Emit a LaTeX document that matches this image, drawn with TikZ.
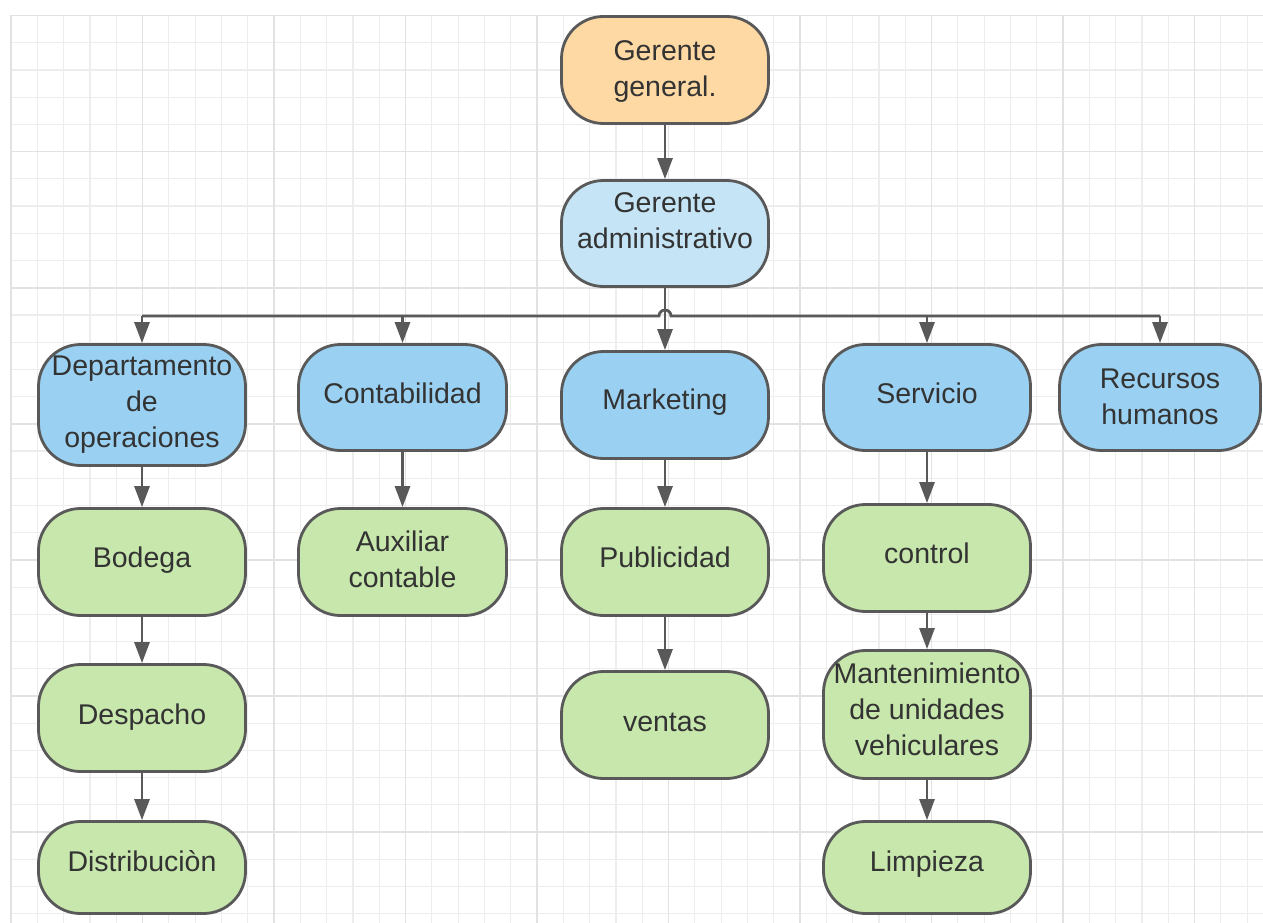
\documentclass[tikz,border=0pt]{standalone}
\usepackage{fontspec}
\setmainfont{Liberation Sans}
\usetikzlibrary{arrows.meta}
\definecolor{linec}{RGB}{89,89,89}
\definecolor{textc}{RGB}{51,51,51}
\definecolor{cOrange}{RGB}{254,217,164}
\definecolor{cLight}{RGB}{197,229,246}
\definecolor{cBlue}{RGB}{154,209,242}
\definecolor{cGreen}{RGB}{199,231,172}
\definecolor{gMinor}{RGB}{237,237,237}
\definecolor{gMajor}{RGB}{226,226,226}
\newcommand\lift[2]{\raisebox{#1}[\height][\depth]{\begin{tabular}{@{}c@{}}#2\end{tabular}}}
\tikzset{
  box/.style={draw=linec, line width=2.8pt, rounded corners=42pt, minimum width=207pt,
    minimum height=107pt, inner sep=0pt, text=textc, font=\fontsize{28.5}{36}\selectfont},
  conn/.style={draw=linec, line width=2.8pt, -{Triangle[width=15pt,length=21pt]}},
  busline/.style={draw=linec, line width=2.8pt},
  gridminor/.style={draw=gMinor, line width=1.2pt},
  gridmajor/.style={draw=gMajor, line width=1.6pt},
}
\begin{document}
\begin{tikzpicture}[x=1pt,y=-1pt]
\useasboundingbox[fill=white] (0,0) rectangle (1263,923);
% grid
\foreach \i in {0,...,47} \draw[gridminor] ({11+26.3*\i},15.5) -- ({11+26.3*\i},923);
\foreach \j in {0,...,33} \draw[gridminor] (11,{15.5+27.22*\j}) -- (1263,{15.5+27.22*\j});
\foreach \i in {0,5,...,45} \draw[gridmajor] ({11+26.3*\i},15.5) -- ({11+26.3*\i},923);
\foreach \j in {0,5,...,30} \draw[gridmajor] (11,{15.5+27.22*\j}) -- (1263,{15.5+27.22*\j});
% nodes
\node[box, fill=cOrange] (gg) at (665,70) {\lift{-1pt}{Gerente\\general.}};
\node[box, fill=cLight, minimum height=106pt] (ga) at (665,233.5) {\lift{10pt}{Gerente\\administrativo}};
\node[box, fill=cBlue, minimum height=121pt] (dep) at (142,405) {\lift{1pt}{Departamento\\de\\operaciones}};
\node[box, fill=cBlue, minimum width=208pt, minimum height=106pt] (cont) at (402.5,397.5) {\lift{1.5pt}{Contabilidad}};
\node[box, fill=cBlue] (mkt) at (665,405) {\lift{3pt}{Marketing}};
\node[box, fill=cBlue, minimum height=106pt] (serv) at (927,397.5) {\lift{1.5pt}{Servicio}};
\node[box, fill=cBlue, minimum width=201pt, minimum height=106pt] (rh) at (1160,397.5) {\lift{-1.5pt}{Recursos\\humanos}};
\node[box, fill=cGreen] (bod) at (142,562) {\lift{2pt}{Bodega}};
\node[box, fill=cGreen, minimum width=208pt] (aux) at (402.5,562) {\lift{0pt}{Auxiliar\\contable}};
\node[box, fill=cGreen] (pub) at (665,562) {\lift{2pt}{Publicidad}};
\node[box, fill=cGreen] (ctrl) at (927,558) {\lift{2pt}{control}};
\node[box, fill=cGreen] (desp) at (142,718) {\lift{1pt}{Despacho}};
\node[box, fill=cGreen] (vent) at (665,725) {\lift{1pt}{ventas}};
\node[box, fill=cGreen, minimum height=128pt] (mant) at (927,714.5) {\lift{2pt}{Mantenimiento\\de unidades\\vehiculares}};
\node[box, fill=cGreen, minimum height=92pt] (dist) at (142,867.5) {\lift{3.5pt}{Distribuciòn}};
\node[box, fill=cGreen, minimum height=92pt] (limp) at (927,867.5) {\lift{3.5pt}{Limpieza}};
% connectors
\coordinate (busY) at (0,316);
\coordinate (jmp) at (ga.south |- busY);
\draw[conn] (gg) -- (ga);
\draw[busline] (dep.north |- busY) -- ([xshift=-6pt]jmp) arc[start angle=180, end angle=360, radius=6] -- (rh.north |- busY);
\draw[conn] (ga) -- (mkt);
\draw[conn] (dep.north |- busY) -- (dep.north);
\draw[conn] (cont.north |- busY) -- (cont.north);
\draw[conn] (serv.north |- busY) -- (serv.north);
\draw[conn] (rh.north |- busY) -- (rh.north);
\draw[conn] (dep) -- (bod);
\draw[conn] (bod) -- (desp);
\draw[conn] (desp) -- (dist);
\draw[conn] (cont) -- (aux);
\draw[conn] (mkt) -- (pub);
\draw[conn] (pub) -- (vent);
\draw[conn] (serv) -- (ctrl);
\draw[conn] (ctrl) -- (mant);
\draw[conn] (mant) -- (limp);
\end{tikzpicture}
\end{document}
